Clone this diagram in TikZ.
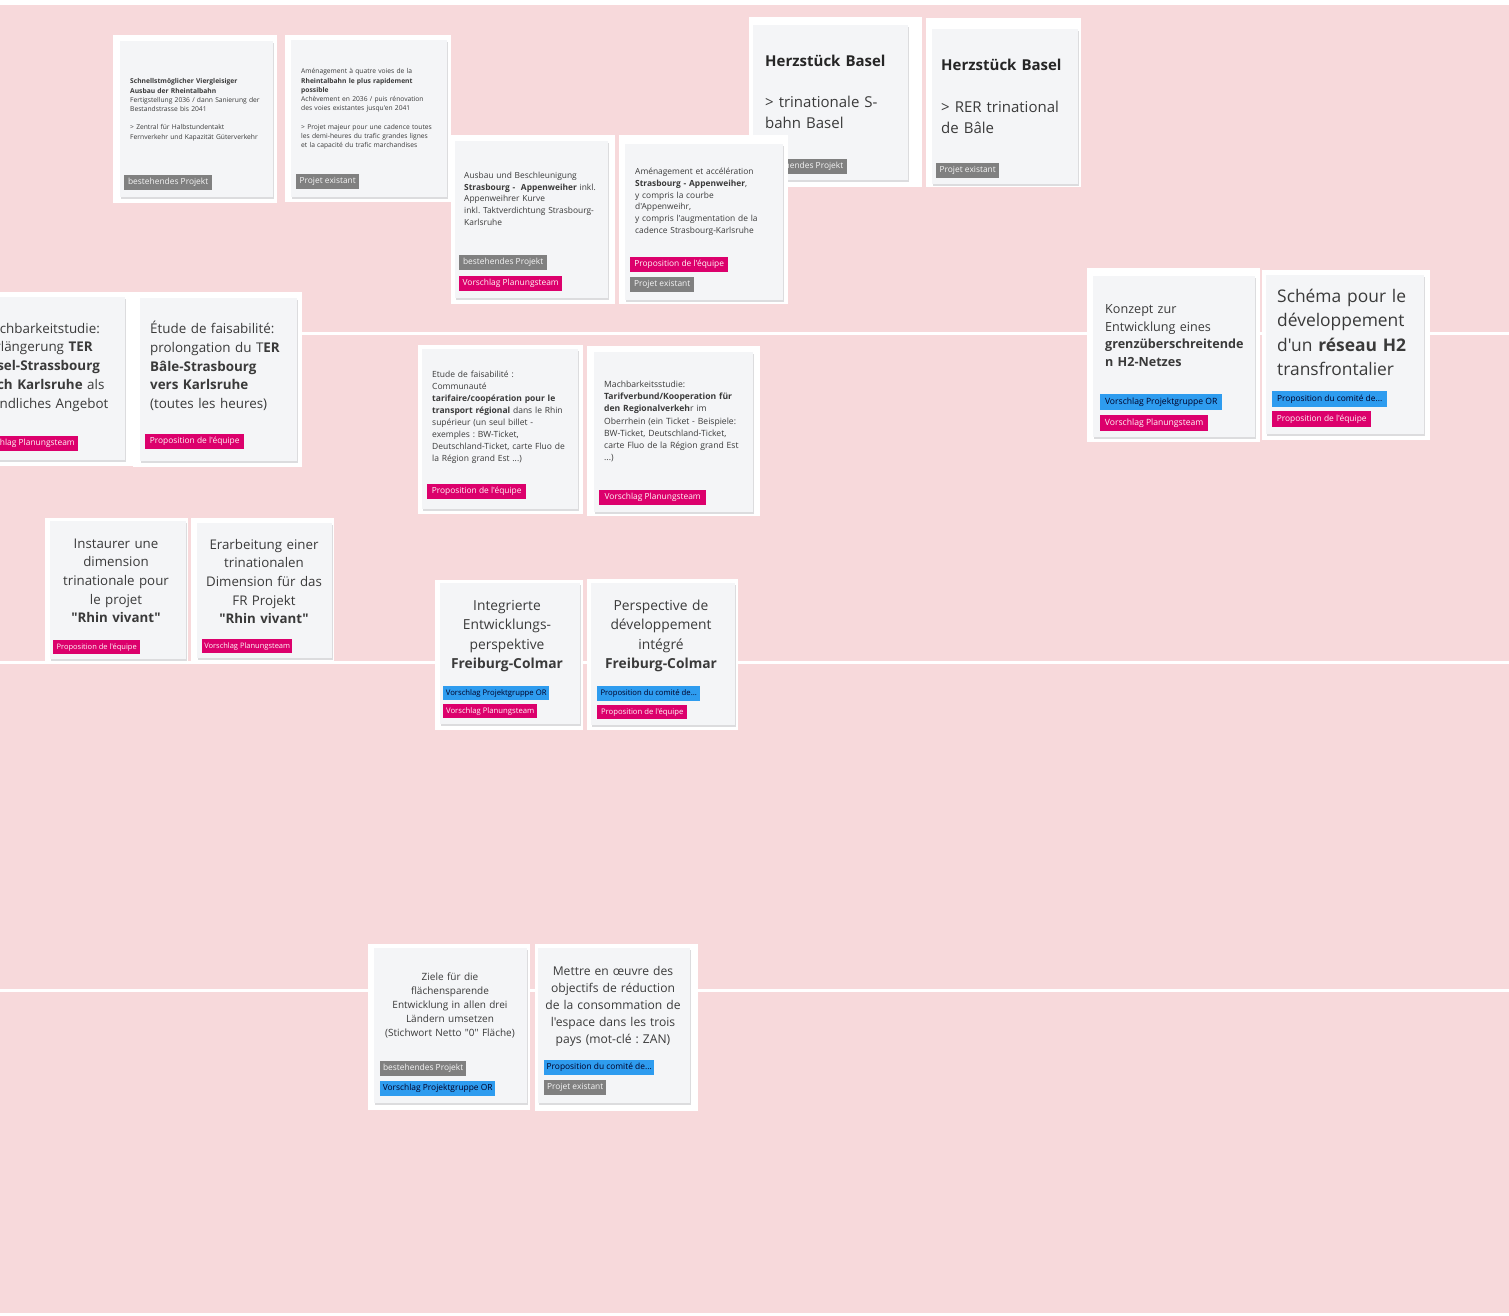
\documentclass[tikz,border=0pt]{standalone}
\usepackage{fontspec}
\setmainfont{Open Sans}[Ligatures=TeXOff]
\frenchspacing
\definecolor{bgpink}{HTML}{F7D9DB}
\definecolor{cardc}{HTML}{F4F5F7}
\definecolor{shadowc}{HTML}{DCDCDE}
\definecolor{tgray}{HTML}{808080}
\definecolor{tpink}{HTML}{DC006C}
\definecolor{tblue}{HTML}{2E9CEF}
\definecolor{txt}{HTML}{3A3A3A}
\newcommand\cardbox[8]{%
  \fill[white] (#1,#2) rectangle (#3,#4);
  \fill[shadowc] ({#5+0.5},{#6+1.8}) rectangle ({#7+0.5},{#8+1.8});
  \fill[cardc] (#5,#6) rectangle (#7,#8);}
\newcommand\fs[2]{\fontsize{#1pt}{#2pt}\selectfont}
\begin{document}
\begin{tikzpicture}[x=1pt,y=-1pt,
  bodyl/.style={inner sep=0pt, anchor=base west, text width=260pt, align=left, text=txt},
  bodyc/.style={inner sep=0pt, anchor=base, text width=200pt, align=center, text=txt},
  tagbox/.style={inner sep=0pt, anchor=north west, minimum height=15pt, font=\fs{8.4}{10}},
  tg/.style={tagbox, fill=tgray, text=white!92!gray},
  tp/.style={tagbox, fill=tpink, text=white!88!pink},
  tb/.style={tagbox, fill=tblue, text=black!85!blue}]
\useasboundingbox (0,0) rectangle (1509,1316);
\fill[white] (0,0) rectangle (1509,1316);
\fill[bgpink] (0,5) rectangle (1509,1313);
\fill[white] (0,331.5) rectangle (1509,334.5);
\fill[white] (0,660.5) rectangle (1509,663.5);
\fill[white] (0,988.5) rectangle (1509,991.5);

% Card A
\cardbox{113}{35}{277}{203}{120}{41}{273}{197}
\node[bodyl, font=\fs{6.7}{9.2}] (ta) at (130,84) {\textbf{Schnellstmöglicher Viergleisiger}\\ \textbf{Ausbau der Rheintalbahn}\\ Fertigstellung 2036 / dann Sanierung der\\ Bestandstrasse bis 2041\\[9.2pt] > Zentral für Halbstundentakt\\ Fernverkehr und Kapazität Güterverkehr};
\node[tg, minimum width=88] (ga) at (124,175) {bestehendes Projekt};

% Card B
\cardbox{285}{35}{451}{202}{291}{40}{447}{197}
\node[bodyl, font=\fs{6.7}{9.2}] (tbx) at (301,74) {Aménagement à quatre voies de la\\ \textbf{Rheintalbahn le plus rapidement}\\ \textbf{possible}\\ Achèvement en 2036 / puis rénovation\\ des voies existantes jusqu'en 2041\\[9.2pt] > Projet majeur pour une cadence toutes\\ les demi-heures du trafic grandes lignes\\ et la capacité du trafic marchandises};
\node[tg, minimum width=63] (gb) at (296,174) {Projet existant};

% Card E
\cardbox{749}{17}{922}{187}{753}{25}{908}{180}
\node[bodyl, font=\bfseries\fs{15}{18}, text=black!85] (te1) at (765,66.5) {Herzstück Basel};
\node[bodyl, font=\fs{15}{21}] (te2) at (765,108) {> trinationale S-\\ bahn Basel};
\node[tg, minimum width=88] (ge) at (759,159) {bestehendes Projekt};

% Card F
\cardbox{926}{18}{1081}{187}{932}{29}{1078}{184}
\node[bodyl, font=\bfseries\fs{15}{18}, text=black!85] (tf1) at (941,70.5) {Herzstück Basel};
\node[bodyl, font=\fs{15}{21}] (tf2) at (941,113) {> RER trinational\\ de Bâle};
\node[tg, minimum width=63] (gf) at (936,163) {Projet existant};

% Card C
\cardbox{451}{135}{615}{304}{455}{141}{608}{298}
\node[bodyl, font=\fs{8.4}{11.75}] (tc) at (464,178.5) {Ausbau und Beschleunigung\\ \textbf{Strasbourg -\ \ Appenweiher} inkl.\\ Appenweihrer Kurve\\ inkl. Taktverdichtung Strasbourg-\\ Karlsruhe};
\node[tg, minimum width=88] (gc1) at (459,255) {bestehendes Projekt};
\node[tp, minimum width=103] (gc2) at (459,276) {Vorschlag Planungsteam};

% Card D
\cardbox{619}{135}{788}{304}{625}{144}{783}{300}
\node[bodyl, font=\fs{8.4}{11.8}] (td) at (635,174.5) {Aménagement et accélération\\ \textbf{Strasbourg - Appenweiher},\\ y compris la courbe\\ d'Appenweihr,\\ y compris l'augmentation de la\\ cadence Strasbourg-Karlsruhe};
\node[tp, minimum width=98] (gd1) at (630,257) {Proposition de l'équipe};
\node[tg, minimum width=64] (gd2) at (630,277) {Projet existant};

% Card G
\cardbox{-40}{292}{133}{466}{-30}{297}{125}{460}
\node[bodyl, font=\fs{13.4}{18.8}] (tgx) at (-20,333) {Machbarkeitstudie:\\ Verlängerung \textbf{TER}\\ \textbf{Basel-Strassbourg}\\ \textbf{nach Karlsruhe} als\\ stündliches Angebot};
\node[tp, minimum width=103] (gg) at (-25,436) {Vorschlag Planungsteam};

% Card H
\cardbox{133}{292}{302}{467}{140}{298}{297}{461}
\node[bodyl, font=\fs{13.4}{18.8}] (th) at (150,333.5) {Étude de faisabilité:\\ prolongation du T\textbf{ER}\\ \textbf{Bâle-Strasbourg}\\ \textbf{vers Karlsruhe}\\ (toutes les heures)};
\node[tp, minimum width=99] (gh) at (145,434) {Proposition de l'équipe};

% Card I
\cardbox{418}{345}{583}{514}{422}{349}{578}{509}
\node[bodyl, font=\fs{8.5}{12}] (ti) at (432,377.5) {Etude de faisabilité :\\ Communauté\\ \textbf{tarifaire/coopération pour le}\\ \textbf{transport régional} dans le Rhin\\ supérieur (un seul billet -\\ exemples : BW-Ticket,\\ Deutschland-Ticket, carte Fluo de\\ la Région grand Est ...)};
\node[tp, minimum width=99] (gi) at (427,484) {Proposition de l'équipe};

% Card J
\cardbox{587}{346}{760}{516}{594}{352}{753}{512}
\node[bodyl, font=\fs{8.6}{12.2}] (tj) at (604,387.5) {Machbarkeitsstudie:\\ \textbf{Tarifverbund/Kooperation für}\\ \textbf{den Regionalverkeh}r im\\ Oberrhein (ein Ticket - Beispiele:\\ BW-Ticket, Deutschland-Ticket,\\ carte Fluo de la Région grand Est\\ ...)};
\node[tp, minimum width=107] (gj) at (599,490) {Vorschlag Planungsteam};

% Card K
\cardbox{1087}{268}{1260}{442}{1093}{276}{1255}{437}
\node[bodyl, font=\fs{12.6}{17.7}] (tk) at (1105,313.5) {Konzept zur\\ Entwicklung eines\\ \textbf{grenzüberschreitende}\\ \textbf{n H2-Netzes}};
\node[tb, minimum width=122, minimum height=16, font=\fs{8.6}{10}] (gk1) at (1100,394) {Vorschlag Projektgruppe OR};
\node[tp, minimum width=108, minimum height=16, font=\fs{8.6}{10}] (gk2) at (1100,415) {Vorschlag Planungsteam};

% Card L
\cardbox{1262}{270}{1430}{440}{1266}{275}{1424}{434}
\node[bodyl, font=\fs{17.4}{24.3}] (tl) at (1277,302.5) {Schéma pour le\\ développement\\ d'un \textbf{réseau H2}\\ transfrontalier};
\node[tb, minimum width=115, minimum height=16] (gl1) at (1272,391) {Proposition du comité de...};
\node[tp, minimum width=99, minimum height=16] (gl2) at (1272,411) {Proposition de l'équipe};

% Card M
\cardbox{45}{518}{188}{662}{50}{521}{186}{659}
\node[bodyc, font=\fs{13.3}{18.7}] (tm) at (116,548) {Instaurer une\\ dimension\\ trinationale pour\\ le projet\\ \textbf{"Rhin vivant"}};
\node[tp, minimum width=87, minimum height=14, font=\fs{7.5}{9}] (gm) at (53,640) {Proposition de l'équipe};

% Card N
\cardbox{191}{518}{334}{662}{197}{523}{332}{658}
\node[bodyc, font=\fs{13.3}{18.7}] (tn) at (264,549) {Erarbeitung einer\\ trinationalen\\ Dimension für das\\ FR Projekt\\ \textbf{"Rhin vivant"}};
\node[tp, minimum width=90, minimum height=14, font=\fs{7.5}{9}] (gn) at (202,639) {Vorschlag Planungsteam};

% Card O
\cardbox{435}{580}{583}{730}{440}{583}{580}{724}
\node[bodyc, font=\fs{13.8}{19.3}] (to) at (507,610.5) {Integrierte\\ Entwicklungs-\\ perspektive\\ \textbf{Freiburg-Colmar}};
\node[tb, minimum width=106, minimum height=14, font=\fs{7.7}{9}] (go1) at (443,686) {Vorschlag Projektgruppe OR};
\node[tp, minimum width=94, minimum height=14, font=\fs{7.7}{9}] (go2) at (443,704) {Vorschlag Planungsteam};

% Card P
\cardbox{587}{579}{738}{730}{591}{583}{735}{725}
\node[bodyc, font=\fs{13.8}{19.3}] (tpx) at (661,610.5) {Perspective de\\ développement\\ intégré\\ \textbf{Freiburg-Colmar}};
\node[tb, minimum width=103, minimum height=15, font=\fs{7.7}{9}] (gp1) at (597,686) {Proposition du comité de...};
\node[tp, minimum width=90, minimum height=14, font=\fs{7.7}{9}] (gp2) at (597,705) {Proposition de l'équipe};

% Card Q
\cardbox{368}{944}{530}{1110}{374}{948}{527}{1103}
\node[bodyc, font=\fs{10}{14}] (tq) at (450,980.5) {Ziele für die\\ flächensparende\\ Entwicklung in allen drei\\ Ländern umsetzen\\ (Stichwort Netto "0" Fläche)};
\node[tg, minimum width=86] (gq1) at (380,1061) {bestehendes Projekt};
\node[tb, minimum width=115] (gq2) at (380,1081) {Vorschlag Projektgruppe OR};

% Card R
\cardbox{535}{944}{698}{1111}{538}{948}{690}{1103}
\node[bodyc, font=\fs{12.1}{17}] (tr) at (613,975) {Mettre en œuvre des\\ objectifs de réduction\\ de la consommation de\\ l'espace dans les trois\\ pays (mot-clé : ZAN)};
\node[tb, minimum width=110] (gr1) at (544,1060) {Proposition du comité de...};
\node[tg, minimum width=62] (gr2) at (544,1080) {Projet existant};
\end{tikzpicture}
\end{document}
